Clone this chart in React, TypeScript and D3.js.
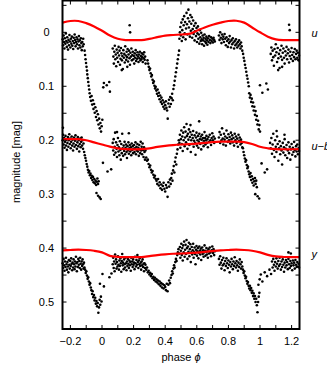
import * as d3 from 'd3';

const W = 327;
const H = 366;

// axis ticks
const xMajor = [-0.2, 0, 0.2, 0.4, 0.6, 0.8, 1, 1.2];
const xLabels = ['−0.2', '0', '0.2', '0.4', '0.6', '0.8', '1', '1.2'];
const xMinor = [-0.1, 0.1, 0.3, 0.5, 0.7, 0.9, 1.1];
const yMajor = [0, 0.1, 0.2, 0.3, 0.4, 0.5];
const yLabels = ['0', '0.1', '0.2', '0.3', '0.4', '0.5'];
const yMinor = [-0.05, 0.05, 0.15, 0.25, 0.35, 0.45];

const seriesNames = ['u', 'u−b', 'y'];
const seriesLabelMag = [0.007, 0.218, 0.418];

// observed light curves: [phase, magnitude]
const uPoints = [
  [-0.249,0.013],[-0.246,0.024],[-0.243,0.006],[-0.24,0.018],[-0.238,0.03],[-0.235,0.011],[-0.232,0.021],[-0.229,0.002],[-0.226,0.016],[-0.223,0.027],[-0.22,0.009],[-0.218,0.019],[-0.215,0.032],[-0.212,0.014],[-0.209,0.024],[-0.206,0.005],[-0.203,0.017],[-0.2,0.028],[-0.197,0.012],[-0.194,0.021],[-0.191,0.008],[-0.188,0.025],[-0.185,0.016],[-0.182,0.031],[-0.179,0.01],[-0.176,0.02],[-0.173,0.004],[-0.17,0.014],[-0.167,0.026],[-0.164,0.018],[-0.161,0.009],[-0.158,0.022],[-0.155,0.013],[-0.152,0.03],[-0.149,0.017],[-0.146,0.007],[-0.143,0.024],[-0.14,0.015],[-0.137,0.028],[-0.134,0.011],[-0.131,0.02],[-0.128,0.033],[-0.125,0.018],[-0.122,0.026],[-0.119,0.012],[-0.116,0.022],
  [-0.11,0.034],[-0.107,0.042],[-0.104,0.05],[-0.101,0.057],[-0.098,0.064],[-0.095,0.071],[-0.093,0.078],[-0.09,0.085],[-0.087,0.092],[-0.084,0.099],[-0.081,0.106],[-0.078,0.113],
  [-0.075,0.12],[-0.07,0.127],[-0.066,0.118],[-0.062,0.134],[-0.058,0.126],[-0.054,0.142],[-0.05,0.133],[-0.046,0.149],[-0.042,0.139],[-0.038,0.157],[-0.034,0.146],[-0.03,0.163],[-0.026,0.152],[-0.022,0.171],[-0.018,0.16],[-0.014,0.178],[-0.01,0.168],[-0.006,0.184],[-0.002,0.174],[0.002,0.162],
  [0.008,0.102],[0.012,0.094],[0.03,0.098],[0.046,0.092],[0.05,0.11],
  [0.068,0.03],[0.072,0.045],[0.075,0.058],[0.078,0.036],[0.081,0.025],[0.084,0.05],[0.087,0.041],[0.09,0.063],[0.093,0.032],[0.096,0.047],[0.099,0.038],[0.102,0.055],[0.105,0.027],[0.108,0.043],[0.111,0.034],[0.114,0.06],[0.117,0.049],[0.12,0.029],[0.123,0.039],[0.126,0.052],[0.129,0.044],[0.132,0.068],[0.135,0.033],[0.138,0.047],[0.141,0.04],[0.144,0.056],[0.147,0.026],[0.15,0.043],[0.153,0.051],[0.156,0.036],[0.159,0.046],[0.162,0.031],[0.165,0.054],[0.168,0.041],[0.171,0.034],[0.174,0.048],[0.177,0.06],[0.18,0.038],[0.183,0.045],[0.186,0.03],[0.189,0.052],[0.192,0.042],[0.195,0.036],[0.198,0.05],[0.201,0.044],[0.204,0.058],[0.207,0.039],[0.21,0.047],[0.213,0.033],[0.216,0.053],[0.219,0.042],[0.222,0.049],[0.225,0.037],[0.228,0.045],[0.231,0.055],[0.234,0.041],[0.237,0.048],[0.24,0.036],[0.243,0.052],[0.246,0.044],[0.249,0.05],[0.252,0.039],[0.255,0.046],[0.258,0.055],[0.261,0.041],[0.264,0.048],[0.267,0.037],[0.27,0.051],[0.273,0.045],[0.276,0.058],
  [0.175,-0.013],[0.178,0.0],[0.125,0.07],[0.16,0.064],
  [0.288,0.052],[0.292,0.058],[0.296,0.064],[0.3,0.07],[0.304,0.067],[0.308,0.076],[0.312,0.082],[0.316,0.079],[0.32,0.088],[0.324,0.094],[0.328,0.091],[0.332,0.099],[0.336,0.104],[0.34,0.101],
  [0.344,0.108],[0.348,0.114],[0.352,0.106],[0.356,0.118],[0.36,0.112],[0.364,0.124],[0.368,0.117],[0.372,0.129],[0.376,0.121],[0.38,0.133],[0.384,0.126],[0.388,0.138],[0.392,0.13],[0.396,0.142],[0.4,0.135],[0.404,0.128],[0.408,0.14],[0.412,0.145],[0.416,0.16],[0.42,0.132],[0.424,0.125],[0.428,0.138],[0.432,0.12],
  [0.436,0.133],[0.44,0.122],[0.444,0.114],[0.448,0.126],[0.452,0.105],[0.456,0.098],[0.46,0.09],[0.464,0.082],[0.468,0.074],[0.472,0.066],[0.476,0.058],[0.48,0.05],[0.484,0.042],[0.488,0.034],
  [0.49,0.012],[0.493,0.0],[0.496,-0.01],[0.499,0.006],[0.502,-0.018],[0.505,0.016],[0.508,-0.004],[0.511,-0.024],[0.514,0.009],[0.517,-0.013],[0.52,-0.03],[0.523,0.002],[0.526,-0.019],[0.529,0.013],[0.532,-0.007],[0.535,-0.036],[0.538,-0.015],[0.541,0.004],[0.544,-0.026],[0.547,-0.042],[0.55,-0.009],[0.553,-0.02],[0.556,0.008],[0.559,-0.032],[0.562,-0.003],[0.565,-0.016],[0.568,-0.028],[0.571,0.01],[0.574,-0.006],[0.577,-0.022],[0.58,0.003],[0.583,-0.012],[0.586,0.015],[0.589,-0.002],[0.592,-0.017],[0.595,0.007],[0.598,-0.008],[0.601,0.018],[0.604,0.002],[0.607,-0.011],[0.61,0.012],[0.613,0.004],[0.616,0.021],[0.619,-0.004],[0.622,0.009],[0.625,0.016],[0.628,0.001],[0.631,0.013],[0.634,0.022],[0.637,0.006],[0.64,0.015],[0.643,0.01],[0.646,0.025],[0.649,0.004],[0.652,0.017],[0.655,0.012],[0.658,0.02],[0.661,0.008],[0.664,0.015],[0.667,0.023],[0.67,0.011],[0.674,0.018],[0.678,0.007],[0.682,0.014],[0.686,0.02],[0.69,0.009],[0.694,0.016],[0.698,0.012],[0.702,0.019],[0.706,0.01],[0.71,0.014],[0.714,0.017],
  [0.74,0.006],[0.744,0.014],[0.748,0.0],[0.752,0.01],[0.756,0.02],[0.76,0.004],[0.764,0.013],[0.768,0.008],[0.772,0.018],[0.776,0.003],[0.78,0.012],[0.784,0.024],[0.788,0.009],[0.792,0.016],[0.796,0.027],[0.8,0.013],[0.804,0.02],[0.808,0.007],[0.812,0.017],[0.816,0.028],[0.82,0.014],[0.824,0.022],[0.828,0.011],[0.832,0.019],[0.836,0.03],[0.84,0.016],[0.844,0.024],[0.848,0.013],[0.852,0.021],[0.856,0.028],[0.86,0.018],[0.864,0.025],[0.868,0.015],[0.872,0.022],[0.876,0.03],[0.88,0.019],[0.884,0.026],[0.888,0.034],
  [0.893,0.04],[0.897,0.047],[0.901,0.053],[0.905,0.06],[0.909,0.066],[0.913,0.073],[0.917,0.08],[0.921,0.086],[0.925,0.093],[0.929,0.1],
  [0.932,0.113],[0.936,0.121],[0.94,0.116],[0.944,0.129],[0.948,0.123],[0.952,0.137],[0.956,0.13],[0.96,0.145],[0.964,0.138],[0.968,0.153],[0.972,0.146],[0.976,0.162],[0.98,0.155],[0.984,0.171],[0.988,0.164],[0.992,0.18],[0.996,0.172],[1.0,0.184],
  [1.0,0.098],[1.015,0.112],[1.04,0.095],[1.05,0.106],
  [1.068,0.04],[1.072,0.028],[1.076,0.052],[1.08,0.034],[1.084,0.046],[1.088,0.062],[1.092,0.031],[1.096,0.043],[1.1,0.022],[1.104,0.037],[1.108,0.055],[1.112,0.029],[1.116,0.048],[1.12,0.04],[1.124,0.066],[1.128,0.033],[1.132,0.045],[1.136,0.025],[1.14,0.051],[1.144,0.038],[1.148,0.03],[1.152,0.047],[1.156,0.058],[1.16,0.035],[1.164,0.043],[1.168,0.027],[1.172,0.05],[1.176,0.039],[1.18,0.032],[1.184,0.056],[1.188,0.044],[1.192,0.036],[1.196,0.049],[1.2,0.029],[1.204,0.042],[1.208,0.053],[1.212,0.037],[1.216,0.046],[1.22,0.031],[1.224,0.05],[1.228,0.04],[1.232,0.034],[1.236,0.047],[1.24,0.038],[1.244,0.052],[1.248,0.043],
  [1.184,-0.014],[1.188,-0.004],[1.115,0.07],[1.14,0.064],
];

const ubPoints = [
  [-0.249,0.2],[-0.246,0.19],[-0.243,0.208],[-0.24,0.196],[-0.237,0.214],[-0.234,0.203],[-0.231,0.192],[-0.228,0.21],[-0.225,0.199],[-0.222,0.218],[-0.219,0.205],[-0.216,0.194],[-0.213,0.212],[-0.21,0.2],[-0.207,0.189],[-0.204,0.207],[-0.201,0.197],[-0.198,0.215],[-0.195,0.203],[-0.192,0.193],[-0.189,0.21],[-0.186,0.199],[-0.183,0.219],[-0.18,0.206],[-0.177,0.195],[-0.174,0.212],[-0.171,0.201],[-0.168,0.191],[-0.165,0.209],[-0.162,0.198],[-0.159,0.216],[-0.156,0.204],[-0.153,0.194],[-0.15,0.211],[-0.147,0.2],[-0.144,0.221],[-0.141,0.207],[-0.138,0.197],[-0.135,0.213],[-0.132,0.203],[-0.129,0.195],[-0.126,0.21],[-0.123,0.2],[-0.12,0.216],[-0.117,0.206],[-0.247,0.177],
  [-0.113,0.222],[-0.109,0.228],[-0.105,0.233],[-0.101,0.238],[-0.097,0.244],[-0.093,0.249],[-0.089,0.255],[-0.085,0.26],[-0.081,0.257],[-0.077,0.265],
  [-0.073,0.262],[-0.069,0.27],[-0.065,0.266],[-0.061,0.274],[-0.057,0.268],[-0.053,0.278],[-0.049,0.272],[-0.045,0.28],[-0.041,0.275],[-0.037,0.283],[-0.033,0.277],[-0.029,0.271],[-0.025,0.281],[-0.021,0.276],[-0.035,0.298],[-0.025,0.303],[-0.015,0.306],[-0.008,0.309],
  [0.006,0.242],[0.035,0.258],[0.058,0.254],
  [0.068,0.205],[0.071,0.219],[0.074,0.198],[0.077,0.227],[0.08,0.212],[0.083,0.186],[0.086,0.223],[0.089,0.204],[0.092,0.216],[0.095,0.231],[0.098,0.209],[0.101,0.196],[0.104,0.221],[0.107,0.213],[0.11,0.228],[0.113,0.202],[0.116,0.218],[0.119,0.236],[0.122,0.207],[0.125,0.224],[0.128,0.188],[0.131,0.215],[0.134,0.229],[0.137,0.21],[0.14,0.22],[0.143,0.203],[0.146,0.226],[0.149,0.214],[0.152,0.208],[0.155,0.222],[0.158,0.233],[0.161,0.211],[0.164,0.219],[0.167,0.204],[0.17,0.225],[0.173,0.215],[0.176,0.209],[0.179,0.221],[0.182,0.213],[0.185,0.228],[0.188,0.206],[0.191,0.218],[0.194,0.211],[0.197,0.224],[0.2,0.216],[0.203,0.209],[0.206,0.222],[0.209,0.215],[0.212,0.204],[0.215,0.226],[0.218,0.212],[0.221,0.219],[0.224,0.207],[0.227,0.221],[0.23,0.214],[0.233,0.229],[0.236,0.209],[0.239,0.217],[0.242,0.224],[0.245,0.203],[0.248,0.219],[0.251,0.212],[0.254,0.226],[0.257,0.206],[0.26,0.218],[0.263,0.231],[0.266,0.213],[0.269,0.222],[0.272,0.236],[0.275,0.219],[0.095,0.185],[0.17,0.187],
  [0.28,0.232],[0.285,0.238],[0.29,0.236],[0.295,0.244],[0.3,0.25],[0.305,0.247],[0.31,0.255],[0.315,0.26],[0.32,0.257],[0.325,0.264],[0.33,0.269],[0.335,0.266],[0.34,0.272],
  [0.345,0.275],[0.35,0.281],[0.355,0.272],[0.36,0.284],[0.365,0.278],[0.37,0.289],[0.375,0.282],[0.38,0.292],[0.385,0.285],[0.39,0.279],[0.395,0.29],[0.4,0.295],[0.405,0.283],[0.41,0.288],[0.415,0.305],[0.42,0.278],[0.425,0.286],[0.43,0.273],[0.435,0.281],
  [0.438,0.27],[0.442,0.262],[0.446,0.275],[0.45,0.256],[0.454,0.248],[0.458,0.26],[0.462,0.24],[0.466,0.232],[0.47,0.245],[0.474,0.225],[0.478,0.217],[0.482,0.208],[0.486,0.2],
  [0.49,0.205],[0.493,0.19],[0.496,0.214],[0.499,0.198],[0.502,0.182],[0.505,0.207],[0.508,0.193],[0.511,0.22],[0.514,0.186],[0.517,0.2],[0.52,0.176],[0.523,0.211],[0.526,0.195],[0.529,0.184],[0.532,0.204],[0.535,0.17],[0.538,0.192],[0.541,0.216],[0.544,0.188],[0.547,0.199],[0.55,0.18],[0.553,0.209],[0.556,0.194],[0.559,0.185],[0.562,0.222],[0.565,0.2],[0.568,0.19],[0.571,0.207],[0.574,0.196],[0.577,0.183],[0.58,0.212],[0.583,0.201],[0.586,0.191],[0.589,0.205],[0.592,0.227],[0.595,0.195],[0.598,0.186],[0.601,0.21],[0.604,0.2],[0.607,0.192],[0.61,0.214],[0.613,0.203],[0.616,0.188],[0.619,0.198],[0.622,0.207],[0.625,0.193],[0.628,0.217],[0.631,0.199],[0.634,0.19],[0.637,0.205],[0.64,0.196],[0.643,0.211],[0.646,0.201],[0.649,0.185],[0.652,0.196],[0.655,0.208],[0.658,0.2],[0.661,0.192],[0.664,0.205],[0.667,0.198],[0.67,0.213],[0.674,0.194],[0.678,0.203],[0.682,0.19],[0.686,0.2],[0.69,0.209],[0.694,0.196],[0.698,0.187],[0.702,0.2],[0.706,0.193],[0.71,0.205],[0.714,0.197],[0.615,0.165],[0.56,0.172],
  [0.74,0.195],[0.744,0.185],[0.748,0.205],[0.752,0.19],[0.756,0.2],[0.76,0.178],[0.764,0.197],[0.768,0.208],[0.772,0.188],[0.776,0.199],[0.78,0.193],[0.784,0.21],[0.788,0.182],[0.792,0.196],[0.796,0.203],[0.8,0.189],[0.804,0.2],[0.808,0.194],[0.812,0.206],[0.816,0.186],[0.82,0.198],[0.824,0.191],[0.828,0.204],[0.832,0.196],[0.836,0.21],[0.84,0.188],[0.844,0.2],[0.848,0.193],[0.852,0.205],[0.856,0.197],[0.86,0.212],[0.864,0.19],[0.868,0.201],[0.872,0.195],[0.876,0.208],[0.88,0.199],[0.884,0.205],[0.888,0.213],
  [0.892,0.215],[0.896,0.222],[0.9,0.228],[0.904,0.234],[0.908,0.24],[0.912,0.237],[0.916,0.246],[0.92,0.252],[0.924,0.249],[0.928,0.258],[0.932,0.263],
  [0.936,0.268],[0.94,0.261],[0.944,0.274],[0.948,0.267],[0.952,0.279],[0.956,0.272],[0.96,0.284],[0.964,0.276],[0.968,0.27],[0.972,0.281],[0.976,0.275],[0.98,0.287],[0.97,0.3],[0.985,0.304],[0.995,0.308],
  [1.01,0.243],[1.03,0.26],[1.045,0.254],
  [1.064,0.205],[1.068,0.215],[1.072,0.196],[1.076,0.225],[1.08,0.208],[1.084,0.188],[1.088,0.218],[1.092,0.231],[1.096,0.2],[1.1,0.212],[1.104,0.222],[1.108,0.193],[1.112,0.207],[1.116,0.238],[1.12,0.215],[1.124,0.202],[1.128,0.226],[1.132,0.211],[1.136,0.219],[1.14,0.245],[1.144,0.205],[1.148,0.223],[1.152,0.213],[1.156,0.198],[1.16,0.228],[1.164,0.216],[1.168,0.209],[1.172,0.233],[1.176,0.219],[1.18,0.204],[1.184,0.224],[1.188,0.212],[1.192,0.236],[1.196,0.217],[1.2,0.207],[1.204,0.227],[1.208,0.214],[1.212,0.222],[1.216,0.203],[1.22,0.218],[1.224,0.23],[1.228,0.211],[1.232,0.221],[1.236,0.208],[1.24,0.226],[1.244,0.215],[1.248,0.22],[1.105,0.183],[1.155,0.19],
];

const yPoints = [
  [-0.249,0.428],[-0.246,0.437],[-0.243,0.42],[-0.24,0.432],[-0.237,0.442],[-0.234,0.425],[-0.231,0.435],[-0.228,0.418],[-0.225,0.43],[-0.222,0.44],[-0.219,0.426],[-0.216,0.434],[-0.213,0.445],[-0.21,0.422],[-0.207,0.431],[-0.204,0.438],[-0.201,0.424],[-0.198,0.433],[-0.195,0.419],[-0.192,0.429],[-0.189,0.441],[-0.186,0.427],[-0.183,0.436],[-0.18,0.421],[-0.177,0.43],[-0.174,0.439],[-0.171,0.425],[-0.168,0.434],[-0.165,0.416],[-0.162,0.428],[-0.159,0.443],[-0.156,0.426],[-0.153,0.435],[-0.15,0.42],[-0.147,0.431],[-0.144,0.424],[-0.141,0.437],[-0.138,0.418],[-0.135,0.429],[-0.132,0.44],[-0.129,0.425],[-0.126,0.433],[-0.123,0.421],[-0.12,0.43],[-0.117,0.438],[-0.114,0.427],[-0.111,0.436],
  [-0.107,0.44],[-0.103,0.446],[-0.099,0.443],[-0.095,0.451],[-0.091,0.457],[-0.087,0.454],[-0.083,0.462],[-0.079,0.468],[-0.075,0.465],[-0.071,0.473],
  [-0.067,0.478],[-0.063,0.485],[-0.059,0.48],[-0.055,0.491],[-0.051,0.487],[-0.047,0.497],[-0.043,0.492],[-0.039,0.503],[-0.035,0.498],[-0.031,0.508],[-0.027,0.502],[-0.023,0.52],[-0.019,0.51],[-0.015,0.496],[-0.011,0.505],[-0.007,0.49],[-0.003,0.499],
  [-0.013,0.466],[0.003,0.448],[0.012,0.471],[0.047,0.454],[0.06,0.447],
  [0.068,0.43],[0.071,0.418],[0.074,0.437],[0.077,0.425],[0.08,0.443],[0.083,0.412],[0.086,0.429],[0.089,0.421],[0.092,0.438],[0.095,0.426],[0.098,0.434],[0.101,0.415],[0.104,0.431],[0.107,0.44],[0.11,0.423],[0.113,0.433],[0.116,0.419],[0.119,0.428],[0.122,0.444],[0.125,0.424],[0.128,0.411],[0.131,0.432],[0.134,0.427],[0.137,0.439],[0.14,0.421],[0.143,0.43],[0.146,0.436],[0.149,0.418],[0.152,0.428],[0.155,0.441],[0.158,0.425],[0.161,0.433],[0.164,0.42],[0.167,0.429],[0.17,0.437],[0.173,0.423],[0.176,0.432],[0.179,0.426],[0.182,0.442],[0.185,0.418],[0.188,0.43],[0.191,0.425],[0.194,0.435],[0.197,0.421],[0.2,0.431],[0.203,0.427],[0.206,0.439],[0.209,0.416],[0.212,0.428],[0.215,0.434],[0.218,0.422],[0.221,0.431],[0.224,0.413],[0.227,0.426],[0.23,0.437],[0.233,0.423],[0.236,0.43],[0.239,0.419],[0.242,0.433],[0.245,0.427],[0.248,0.44],[0.251,0.425],[0.254,0.432],[0.257,0.421],[0.26,0.435],[0.263,0.429],[0.266,0.443],[0.269,0.428],[0.272,0.437],[0.275,0.431],
  [0.28,0.44],[0.285,0.436],[0.29,0.445],[0.295,0.442],[0.3,0.449],[0.305,0.446],[0.31,0.452],[0.315,0.448],[0.32,0.456],[0.325,0.453],[0.33,0.459],[0.335,0.455],[0.34,0.462],
  [0.345,0.458],[0.35,0.464],[0.355,0.46],[0.36,0.467],[0.365,0.462],[0.37,0.47],[0.375,0.465],[0.38,0.473],[0.385,0.467],[0.39,0.475],[0.395,0.469],[0.4,0.472],[0.405,0.478],[0.41,0.466],[0.415,0.48],[0.42,0.468],[0.425,0.46],[0.43,0.465],[0.435,0.455],
  [0.44,0.45],[0.444,0.443],[0.448,0.447],[0.452,0.438],[0.456,0.432],[0.46,0.436],[0.464,0.426],[0.468,0.42],[0.472,0.424],[0.476,0.413],[0.48,0.408],[0.484,0.402],
  [0.49,0.41],[0.493,0.398],[0.496,0.418],[0.499,0.405],[0.502,0.392],[0.505,0.413],[0.508,0.4],[0.511,0.423],[0.514,0.395],[0.517,0.408],[0.52,0.388],[0.523,0.416],[0.526,0.403],[0.529,0.394],[0.532,0.411],[0.535,0.385],[0.538,0.4],[0.541,0.42],[0.544,0.397],[0.547,0.407],[0.55,0.39],[0.553,0.415],[0.556,0.402],[0.559,0.393],[0.562,0.426],[0.565,0.408],[0.568,0.398],[0.571,0.412],[0.574,0.404],[0.577,0.392],[0.58,0.418],[0.583,0.407],[0.586,0.399],[0.589,0.411],[0.592,0.43],[0.595,0.403],[0.598,0.396],[0.601,0.414],[0.604,0.406],[0.607,0.4],[0.61,0.419],[0.613,0.409],[0.616,0.397],[0.619,0.405],[0.622,0.412],[0.625,0.401],[0.628,0.422],[0.631,0.407],[0.634,0.399],[0.637,0.411],[0.64,0.404],[0.643,0.416],[0.646,0.408],[0.649,0.395],[0.652,0.405],[0.655,0.414],[0.658,0.407],[0.661,0.4],[0.664,0.412],[0.667,0.406],[0.67,0.418],[0.674,0.402],[0.678,0.41],[0.682,0.399],[0.686,0.408],[0.69,0.415],[0.694,0.404],[0.698,0.397],[0.702,0.409],[0.706,0.402],[0.71,0.413],[0.714,0.406],
  [0.74,0.42],[0.744,0.431],[0.748,0.415],[0.752,0.427],[0.756,0.438],[0.76,0.422],[0.764,0.432],[0.768,0.418],[0.772,0.429],[0.776,0.441],[0.78,0.424],[0.784,0.433],[0.788,0.419],[0.792,0.428],[0.796,0.437],[0.8,0.423],[0.804,0.431],[0.808,0.445],[0.812,0.426],[0.816,0.434],[0.82,0.42],[0.824,0.43],[0.828,0.439],[0.832,0.425],[0.836,0.433],[0.84,0.417],[0.844,0.428],[0.848,0.436],[0.852,0.424],[0.856,0.432],[0.86,0.442],[0.864,0.427],[0.868,0.435],[0.872,0.421],[0.876,0.43],[0.88,0.438],[0.884,0.426],[0.888,0.434],
  [0.892,0.44],[0.896,0.446],[0.9,0.443],[0.904,0.451],[0.908,0.456],[0.912,0.453],[0.916,0.461],[0.92,0.466],[0.924,0.463],[0.928,0.47],[0.932,0.475],
  [0.936,0.47],[0.94,0.478],[0.944,0.474],[0.948,0.483],[0.952,0.479],[0.956,0.489],[0.96,0.484],[0.964,0.494],[0.968,0.489],[0.972,0.5],[0.976,0.494],[0.98,0.506],[0.984,0.519],[0.988,0.5],[0.992,0.49],[0.996,0.483],
  [0.99,0.468],[0.998,0.458],[1.005,0.449],[1.015,0.462],[1.03,0.445],[1.045,0.452],[1.06,0.44],[1.07,0.448],
  [1.076,0.425],[1.08,0.436],[1.084,0.42],[1.088,0.431],[1.092,0.442],[1.096,0.426],[1.1,0.434],[1.104,0.419],[1.108,0.429],[1.112,0.438],[1.116,0.424],[1.12,0.433],[1.124,0.418],[1.128,0.43],[1.132,0.44],[1.136,0.425],[1.14,0.435],[1.144,0.421],[1.148,0.431],[1.152,0.444],[1.156,0.427],[1.16,0.436],[1.164,0.422],[1.168,0.432],[1.172,0.426],[1.176,0.439],[1.18,0.42],[1.184,0.43],[1.188,0.437],[1.192,0.424],[1.196,0.433],[1.2,0.428],[1.204,0.441],[1.208,0.423],[1.212,0.432],[1.216,0.427],[1.22,0.438],[1.224,0.422],[1.228,0.431],[1.232,0.435],[1.236,0.426],[1.24,0.434],[1.244,0.429],[1.248,0.436],[1.18,0.408],[1.195,0.41],
];

// fitted model curves (red), sampled at fitPhase
const fitPhase = [-0.25,-0.2,-0.15,-0.1,-0.05,0,0.05,0.1,0.15,0.2,0.25,0.3,0.35,0.4,0.45,0.5,0.55,0.6,0.65,0.7,0.75,0.8,0.85,0.9,0.95,1.0,1.05,1.1,1.15,1.2,1.25];
const uFit = [-0.018,-0.021,-0.021,-0.017,-0.011,-0.003,0.006,0.012,0.0143,0.0145,0.0143,0.012,0.009,0.006,0.005,0.004,0.003,-0.003,-0.009,-0.014,-0.018,-0.021,-0.0215,-0.018,-0.009,0.0,0.008,0.013,0.0145,0.0145,0.0143];
const ubFit = [0.198,0.198,0.198,0.2,0.204,0.208,0.212,0.215,0.2167,0.217,0.2167,0.215,0.2125,0.2105,0.209,0.208,0.2074,0.2065,0.205,0.2035,0.2027,0.2025,0.2027,0.2035,0.207,0.2122,0.215,0.2167,0.2168,0.2168,0.2167];
const yFit = [0.4042,0.4035,0.403,0.4035,0.405,0.408,0.4145,0.4162,0.4167,0.4168,0.4167,0.415,0.413,0.4115,0.4105,0.41,0.4093,0.4083,0.407,0.4055,0.4042,0.4035,0.403,0.4035,0.405,0.408,0.4125,0.4155,0.4165,0.4168,0.4167];

const FONT = '"Liberation Sans", Arial, Helvetica, sans-serif';

export default function App() {
  const x = d3.scaleLinear().domain([-0.25, 1.25]).range([62.5, 299.5]);
  const y = d3.scaleLinear().domain([-0.059, 0.55]).range([0.5, 329]);
  const [x0, x1] = x.range();
  const [y0, y1] = y.range();

  const fitLine = d3
    .line<number>()
    .x((_, i) => x(fitPhase[i]))
    .y((d) => y(d))
    .curve(d3.curveCatmullRom);

  const tick = 4;

  return (
    <svg
      width={W}
      height={H}
      style={{ position: 'absolute', left: 0, top: 0, background: '#fff' }}
      fontFamily={FONT}
    >
      <rect width={W} height={H} fill='#fff' />
      {/* data points */}
      <g fill='#000'>
        {[uPoints, ubPoints, yPoints].map((pts, s) =>
          pts.map((d, i) => (
            <circle key={`${s}-${i}`} cx={x(d[0])} cy={y(d[1])} r={1.3} />
          ))
        )}
      </g>
      {/* fits */}
      <g fill='none' stroke='#ff0000' strokeWidth={2.2}>
        {[uFit, ubFit, yFit].map((f, i) => (
          <path key={i} d={fitLine(f) || ''} />
        ))}
      </g>
      {/* white mask outside plot */}
      <rect x={x1 + 1} y={0} width={W - x1} height={H} fill='#fff' />
      {/* frame */}
      <rect x={x0} y={y0} width={x1 - x0} height={y1 - y0} fill='none' stroke='#000' strokeWidth={2} />
      {/* ticks */}
      <g stroke='#000' strokeWidth={1}>
        {[...xMajor, ...xMinor].map((v, i) => (
          <g key={i}>
            <line x1={x(v)} x2={x(v)} y1={y1} y2={y1 - tick} />
            <line x1={x(v)} x2={x(v)} y1={y0} y2={y0 + tick} />
          </g>
        ))}
        {[...yMajor, ...yMinor].map((v, i) => (
          <g key={i}>
            <line x1={x0} x2={x0 + tick} y1={y(v)} y2={y(v)} />
            <line x1={x1} x2={x1 - tick} y1={y(v)} y2={y(v)} />
          </g>
        ))}
      </g>
      <g fontSize={11} fill='#000'>
        {xMajor.map((v, i) => (
          <text key={i} x={x(v)} y={345} textAnchor='middle'>
            {xLabels[i]}
          </text>
        ))}
        {yMajor.map((v, i) => (
          <text key={i} x={46.5} y={y(v) + 4} textAnchor='middle'>
            {yLabels[i]}
          </text>
        ))}
        <text x={181} y={361} textAnchor='middle'>
          phase <tspan fontStyle='italic'>ϕ</tspan>
        </text>
        <text transform='translate(20,162) rotate(-90)' textAnchor='middle'>
          magnitude [mag]
        </text>
        {seriesNames.map((n, i) => (
          <text key={n} x={311.5} y={y(seriesLabelMag[i]) + 0.5} fontStyle='italic'>
            {n}
          </text>
        ))}
      </g>
    </svg>
  );
}
